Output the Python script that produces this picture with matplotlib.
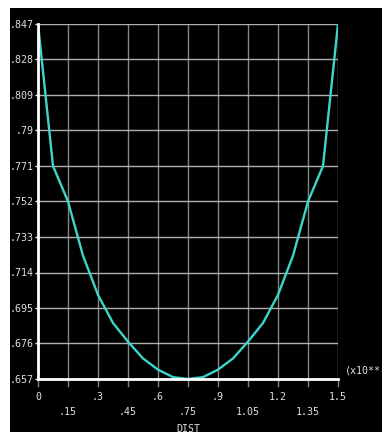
import numpy as np
import matplotlib.pyplot as plt
from matplotlib.patches import Rectangle

# path plot data (DIST in x10**-1, value along path)
dist = [0, .075, .15, .225, .3, .375, .45, .525, .6, .675, .75,
        .825, .9, .975, 1.05, 1.125, 1.2, 1.275, 1.35, 1.425, 1.5]
value = [.847, .771, .752, .7230, .702, .687, .677, .668, .662, .658, .657,
         .658, .662, .668, .677, .687, .702, .7230, .752, .771, .847]

x_ticks = [0, .15, .3, .45, .6, .75, .9, 1.05, 1.2, 1.35, 1.5]
x_labels = ['0', '.15', '.3', '.45', '.6', '.75', '.9', '1.05', '1.2', '1.35', '1.5']
y_ticks = [.657, .676, .695, .714, .733, .752, .771, .79, .809, .828, .847]
y_labels = ['.657', '.676', '.695', '.714', '.733', '.752', '.771', '.79', '.809', '.828', '.847']

W, H = 382, 432
fig = plt.figure(figsize=(W / 100, H / 100), dpi=100, facecolor='white')
# black screen background (white strip on left and top)
fig.patches.append(Rectangle((10 / W, 0), 1, (H - 8) / H, transform=fig.transFigure,
                             facecolor='black', edgecolor='none', zorder=-5))

ax = fig.add_axes([38 / W, 53 / H, 300 / W, 355 / H])
ax.set_zorder(2)
ax.set_facecolor('black')
ax.set_xlim(0, 1.5)
ax.set_ylim(.657, .847)

font = dict(family='DejaVu Sans Mono', fontsize=7.2, color='#e0e0e0')

# grid
for xv in x_ticks:
    ax.plot([xv, xv], [.657, .847], color='#858585', lw=1, zorder=1)
    ax.plot([xv, xv], [.657, .657 - 0.0038], color='#858585', lw=1, zorder=1, clip_on=False)
for yv in y_ticks:
    ax.plot([0, 1.5], [yv, yv], color='#b0b0b0', lw=1, zorder=1)

ax.plot(dist, value, color='#3ed6cc', lw=1.7, zorder=3, solid_joinstyle='round')

for s in ['top', 'right']:
    ax.spines[s].set_visible(False)
for s in ['left', 'bottom']:
    ax.spines[s].set_color('white')
    ax.spines[s].set_linewidth(2)
    ax.spines[s].set_zorder(4)

ax.set_xticks([])
ax.set_yticks(y_ticks)
ax.set_yticklabels(y_labels, **font)
ax.tick_params(axis='y', colors='white', length=2, width=1, pad=1)
for t in ax.get_yticklabels():
    t.set_color('#e0e0e0')

# staggered x labels
for i, (xv, lab) in enumerate(zip(x_ticks, x_labels)):
    yoff = -18 if i % 2 == 0 else -33
    ax.annotate(lab, xy=(xv, .657), xytext=(0, yoff), textcoords='offset pixels',
                ha='center', va='center', annotation_clip=False, **font)

ax.annotate('DIST', xy=(0.75, .657), xytext=(0, -50), textcoords='offset pixels',
            ha='center', va='center', annotation_clip=False, **font)
ax.annotate('(x10**-1)', xy=(1.5, .657), xytext=(7, 8), textcoords='offset pixels',
            ha='left', va='center', annotation_clip=False, **font)

fig.savefig('out.png', dpi=100, facecolor='white')
